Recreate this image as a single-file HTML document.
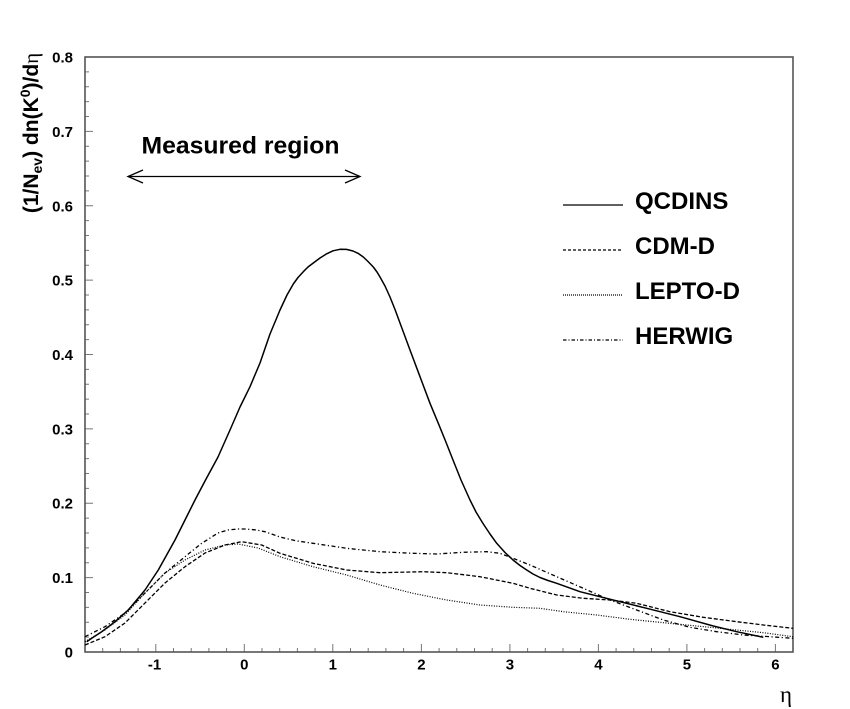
<!DOCTYPE html>
<html>
<head>
<meta charset="utf-8">
<style>
  html, body { margin:0; padding:0; background:#fff; }
  svg { display:block; }
  text { font-family: "Liberation Sans", Arial, sans-serif; fill:#000; }
</style>
</head>
<body>
<svg width="850" height="709" viewBox="0 0 850 709" xmlns="http://www.w3.org/2000/svg">
  <rect x="0" y="0" width="850" height="709" fill="#fff"/>

  <!-- ticks x -->
  <path stroke="#777" stroke-width="1" fill="none" d="
    M102.7 652v-4 M120.4 652v-4 M138.1 652v-4 M155.8 652v-8 M173.5 652v-4 M191.2 652v-4 M208.9 652v-4 M226.6 652v-4
    M244.3 652v-8 M262.0 652v-4 M279.7 652v-4 M297.4 652v-4 M315.1 652v-4 M332.8 652v-8 M350.5 652v-4 M368.2 652v-4
    M385.9 652v-4 M403.6 652v-4 M421.4 652v-8 M439.1 652v-4 M456.8 652v-4 M474.5 652v-4 M492.2 652v-4 M509.9 652v-8
    M527.6 652v-4 M545.3 652v-4 M563.0 652v-4 M580.7 652v-4 M598.4 652v-8 M616.1 652v-4 M633.8 652v-4 M651.5 652v-4
    M669.2 652v-4 M686.9 652v-8 M704.6 652v-4 M722.3 652v-4 M740.0 652v-4 M757.7 652v-4 M775.4 652v-8"/>
  <!-- ticks y -->
  <path stroke="#777" stroke-width="1" fill="none" d="
    M85 637.1h4 M85 622.3h4 M85 607.4h4 M85 592.5h4 M85 577.6h8 M85 562.8h4 M85 547.9h4 M85 533.0h4 M85 518.1h4
    M85 503.3h8 M85 488.4h4 M85 473.5h4 M85 458.6h4 M85 443.8h4 M85 428.9h8 M85 414.0h4 M85 399.1h4 M85 384.3h4
    M85 369.4h4 M85 354.5h8 M85 339.6h4 M85 324.8h4 M85 309.9h4 M85 295.0h4 M85 280.1h8 M85 265.3h4 M85 250.4h4
    M85 235.5h4 M85 220.6h4 M85 205.8h8 M85 190.9h4 M85 176.0h4 M85 161.1h4 M85 146.3h4 M85 131.4h8 M85 116.5h4
    M85 101.6h4 M85 86.8h4 M85 71.9h4"/>

  <!-- frame -->
  <rect x="85" y="57" width="708" height="595" fill="none" stroke="#555" stroke-width="1.6"/>

  <!-- y labels -->
  <g font-size="15" font-weight="bold" text-anchor="end">
    <text x="73" y="657.5">0</text>
    <text x="73" y="583">0.1</text>
    <text x="73" y="508.7">0.2</text>
    <text x="73" y="434.3">0.3</text>
    <text x="73" y="360">0.4</text>
    <text x="73" y="285.6">0.5</text>
    <text x="73" y="211.3">0.6</text>
    <text x="73" y="136.9">0.7</text>
    <text x="73" y="62.5">0.8</text>
  </g>
  <!-- x labels -->
  <g font-size="15" font-weight="bold" text-anchor="middle">
    <text x="154.5" y="669.5">-1</text>
    <text x="244.3" y="669.5">0</text>
    <text x="332.8" y="669.5">1</text>
    <text x="421.4" y="669.5">2</text>
    <text x="509.9" y="669.5">3</text>
    <text x="598.4" y="669.5">4</text>
    <text x="686.9" y="669.5">5</text>
    <text x="775.4" y="669.5">6</text>
  </g>

  <!-- axis titles -->
  <text transform="translate(38,133) rotate(-90)" text-anchor="middle" font-size="21" font-weight="bold">(1/N<tspan font-size="14" dy="4">ev</tspan><tspan dy="-4">) dn(K</tspan><tspan font-size="14" dy="-8">0</tspan><tspan dy="8">)/d</tspan><tspan font-weight="normal" style="font-family:'Liberation Serif',serif">η</tspan></text>
  <text x="780" y="702" font-size="23" style="font-family:'Liberation Serif',serif">η</text>

  <!-- measured region -->
  <text x="141.5" y="153.3" font-size="24" font-weight="bold" textLength="198" lengthAdjust="spacingAndGlyphs">Measured region</text>
  <g stroke="#000" stroke-width="1.3" fill="none">
    <path d="M128 176.5 H360"/>
    <path d="M143 170 L128 176.5 L143 183"/>
    <path d="M345 170 L360 176.5 L345 183"/>
  </g>

  <!-- legend -->
  <g stroke="#000" stroke-width="1.2" fill="none">
    <path d="M563 205 H623"/>
    <path d="M563 250 H623" stroke-dasharray="3 2"/>
    <path d="M563 295 H623" stroke-dasharray="1 1"/>
    <path d="M563 340 H623" stroke-dasharray="3.5 2 1 2"/>
  </g>
  <g font-size="24" font-weight="bold">
    <text x="635" y="209">QCDINS</text>
    <text x="635" y="254">CDM-D</text>
    <text x="635" y="299">LEPTO-D</text>
    <text x="635" y="344">HERWIG</text>
  </g>

  <!-- curves -->
  <g fill="none" stroke="#000" stroke-linejoin="round" stroke-linecap="butt">
    <!-- QCDINS -->
    <polyline stroke-width="1.5" points="86.7,641.7 91.7,638.3 101.7,631.7 115,621.7 128.3,610 145,590 158.3,570 175,540 185,520 195,500 205,481 218,457 230,430 240,407 250,386.7 260,363 270,334 280,310 287,295 293.3,284 298,277.5 303.3,271.7 308,267 313.3,263 320,258 326.7,253.8 333,250.8 340,249.3 346.5,249.4 353,251 358,253.3 363.3,257 368,261.5 373.3,267 377,272 380,277 385,286 390,297 395,309.5 400,323 410,350 420,376.7 430,403.3 438.3,423.3 445.5,441 453,460 461,480 470,500 476,512 483,523.5 490,534 496.7,543.3 505,552.5 513,560 520,565.5 526.7,570 533,574 540,577.5 548,580.5 556.7,583.3 580,591.7 613,600 646.7,608.3 680,616.7 713.3,626 736.7,631.7 763.3,637.3"/>
    <!-- HERWIG dash-dot -->
    <polyline stroke-width="1.3" stroke-dasharray="4 2.5 1.2 2.5" points="85,636.7 105,626.7 125,613 145,593 165,573 185,556.7 201.7,543.3 218,533 228,530 238,529 245,529 255,529.8 265,531.7 280,537 296,540.8 313,543.3 346.7,548.3 380,551.7 413,553.3 436.7,554 463,552.3 486.7,551.7 500,553.3 513,558.3 530,565 556.7,576.7 583.3,588.3 610,600 636.7,610 663.3,620 690,627.3 716.7,631.7 743.3,635 770,636.7 793,638.3"/>
    <!-- CDM-D dashed -->
    <polyline stroke-width="1.3" stroke-dasharray="4 2" points="85,645 105,636.7 125,623 145,603 165,583 185,566.7 205,553 225,545 241.7,541.7 261.7,545 280,553.3 313,563.3 346.7,570 380,572.7 423,571.7 446.7,572.7 480,576.7 513,583.3 530,588.3 556.7,595 583.3,598.3 610,600 636.7,603.3 670,611.7 703.3,617.3 736.7,621.7 763.3,625 793,628.3"/>
    <!-- LEPTO-D dotted -->
    <polyline stroke-width="1.2" stroke-dasharray="1 1.5" points="85,641.7 105,630 125,615 145,593 165,573 185,560 205,550 225,545 238,544 258,548 280,556.7 313,566.7 346.7,575 380,585 413,593.3 446.7,600 480,605 513,607.3 540,608.3 563.3,611.7 596.7,615 630,619.3 663.3,622.7 696.7,626 730,629.3 763.3,632.7 793,636.7"/>
  </g>
</svg>
</body>
</html>
